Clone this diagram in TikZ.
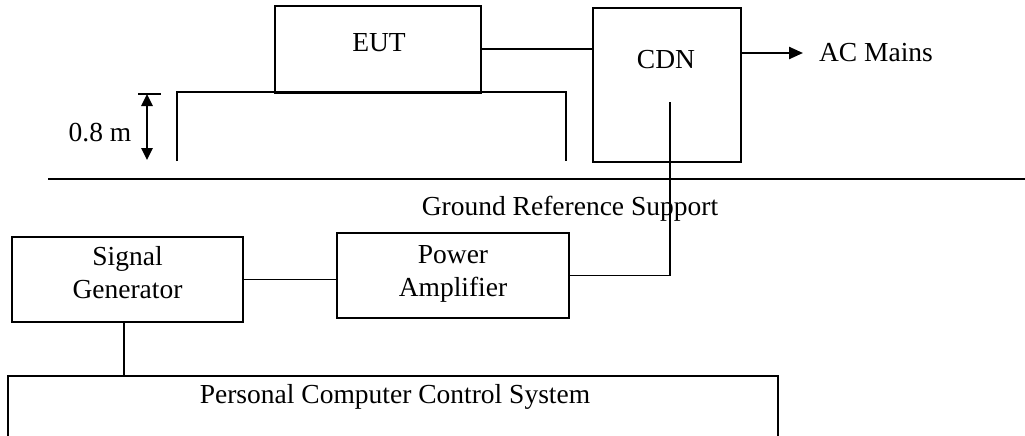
\documentclass[tikz,border=0pt]{standalone}
\usepackage{fontspec}
\setmainfont{Liberation Serif}
\usetikzlibrary{arrows.meta}
\begin{document}
\begin{tikzpicture}[x=1pt,y=-1pt,
  line/.style={draw=black, line width=1.1pt},
  box/.style={draw=black, line width=1.1pt, rectangle, inner sep=0pt},
  lbl/.style={anchor=base, inner sep=0pt, font=\fontsize{27.5}{33}\selectfont},
  bigarrow/.style={line width=2.4pt, -{Triangle[length=14pt,width=12pt]}},
  dimarrow/.style={line width=2.6pt, {Triangle[length=12pt,width=11pt]}-{Triangle[length=12pt,width=11pt]}}]
\useasboundingbox (0,0) rectangle (1025,436);

% boxes
\node[box, minimum width=206pt, minimum height=87pt] (eut) at (378,49.5) {};
\node[box, minimum width=148pt, minimum height=154pt] (cdn) at (667,85) {};
\node[box, minimum width=232pt, minimum height=85pt] (pa) at (453,275.5) {};
\node[box, minimum width=231pt, minimum height=85pt] (sg) at (127.5,279.5) {};

% texts
\node[lbl] (eutt) at (379,52) {EUT};
\node[lbl] (cdnt) at (666,69) {CDN};
\node[lbl] (ac) at (876,62) {AC Mains};
\node[lbl] (dimt) at (100,141) {0.8 m};
\node[lbl] (grs) at (570,215) {Ground Reference Support};
\node[lbl] (sg1) at (127.5,265) {Signal};
\node[lbl] (sg2) at (127.5,298) {Generator};
\node[lbl] (pa1) at (453,263) {Power};
\node[lbl] (pa2) at (453,296) {Amplifier};
\node[lbl] (pct) at (395,403) {Personal Computer Control System};

% table
\coordinate (tl) at (177,161);
\coordinate (tr) at (566,161);
\draw[line] (tl) -- (tl |- 0,92) -- (tr |- 0,92) -- (tr);

% ground reference line
\coordinate (g1) at (48,179);
\coordinate (g2) at (1025,179);
\draw[line] (g1) -- (g2);

% 0.8 m dimension
\coordinate (d1) at (147,94);
\coordinate (d2) at (147,160);
\draw[line] (138,94) -- (161,94);
\draw[dimarrow] (d1) -- (d2);

% PC control system box (open at the bottom)
\coordinate (pcl) at (8,376);
\coordinate (pcr) at (778,376);
\draw[line] (8,437) -- (pcl) -- (pcr) -- (778,437);

% connectors
\draw[line] (eut.east |- 0,49) -- (cdn.west |- 0,49);
\coordinate (cdnin) at (670,102);
\draw[line] (cdnin) |- (pa.east);
\draw[line] (sg.east) -- (pa.west |- sg.east);
\draw[line] (sg.south -| 124,0) -- (pcl -| 124,0);
\coordinate (acend) at (803,53);
\draw[bigarrow] (cdn.east |- acend) -- (acend);
\end{tikzpicture}
\end{document}
